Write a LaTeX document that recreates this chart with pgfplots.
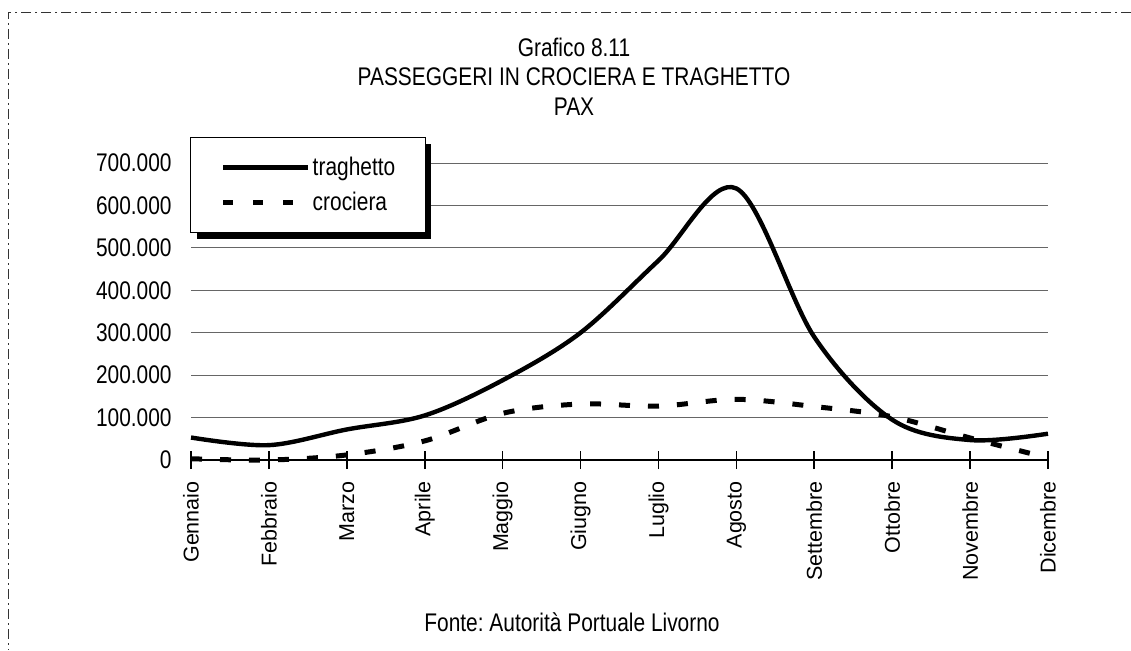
\documentclass[border=0pt]{standalone}
\usepackage{fontspec}
\setmainfont{Liberation Sans}
\newfontfamily\narrow{Liberation Sans}[FakeStretch=0.82]
\usepackage{pgfplots}
\pgfplotsset{compat=1.18}
\usetikzlibrary{shadows}
\makeatletter
\tikzset{nopre/.code={\let\tikz@preactions\pgfutil@empty\let\tikz@postactions\pgfutil@empty}}
\makeatother
\pgfplotsset{
  solidleg/.style={legend image code/.code={\draw[nopre, ##1] (0pt,0pt) -- (42.5pt,0pt);}},
  dashleg/.style={legend image code/.code={\draw[nopre, ##1, dash pattern=on 5pt off 10pt] (0pt,0pt) -- (42.5pt,0pt);}},
}
\newcommand\nf{\narrow\fontsize{12.75}{15}\selectfont}
\frenchspacing
\begin{document}
\begin{tikzpicture}
\path[use as bounding box] (0,0) rectangle (565.5pt,325pt);
\draw[black!80, line width=0.5pt, dash pattern=on 5pt off 2pt on 1pt off 2pt] (565.5pt,319pt) -- (4pt,319pt) -- (4pt,0pt);
\node[font=\nf] at (287pt,301.5pt) {Grafico 8.11};
\node[font=\nf] at (287pt,286.5pt) {PASSEGGERI IN CROCIERA E TRAGHETTO};
\node[font=\nf] at (287pt,271.5pt) {PAX};
\node[font=\nf] at (286pt,14pt) {Fonte: Autorità Portuale Livorno};
\begin{axis}[
  at={(95.5pt,95pt)}, anchor=south west,
  width=428.5pt, height=148.5pt, scale only axis,
  xmin=0, xmax=11, ymin=0, ymax=700000,
  clip=false,
  axis x line*=bottom, axis y line*=left,
  x axis line style={line width=1.3pt, -},
  y axis line style={draw=none},
  xtick={0,...,11},
  xticklabels={Gennaio,Febbraio,Marzo,Aprile,Maggio,Giugno,Luglio,Agosto,Settembre,Ottobre,Novembre,Dicembre},
  xtick align=center,
  major tick length=9pt,
  x tick style={line width=0.8pt, black},
  xticklabel style={rotate=90, anchor=east, inner sep=0pt, xshift=-6pt, font=\fontsize{10.75}{12}\selectfont},
  ytick={0,100000,200000,300000,400000,500000,600000,700000},
  y tick style={draw=none},
  ymajorgrids, grid style={black!60, line width=0.5pt},
  scaled y ticks=false,
  /pgf/number format/assume math mode=true,
  yticklabel style={font=\nf, inner sep=0pt, xshift=-9.5pt, /pgf/number format/fixed, /pgf/number format/1000 sep={.}},
  legend style={at={(-0.001,1.0875)}, anchor=north west, draw=black, line width=0.6pt, fill=white,
    font=\nf, inner xsep=15pt, inner ysep=6.25pt, row sep=0pt, column sep=1pt,
    nodes={inner sep=0pt, minimum height=17.5pt},
    drop shadow={shadow xshift=3pt, shadow yshift=-3pt, fill=black, opacity=1}},
  legend cell align=left,
]
\addplot[black, line width=2.2pt, smooth, tension=0.55, solidleg]
coordinates {(0,53000) (1,35000) (2,72000) (3,105000) (4,188000) (5,300000) (6,470000) (7,640000) (8,290000) (9,95000) (10,47000) (11,62000)};
\addlegendentry{traghetto\hspace{3pt}}
\addplot[black, line width=2.5pt, smooth, tension=0.55, dash pattern=on 5.5pt off 9pt, dashleg]
coordinates {(0,3000) (1,0) (2,12000) (3,45000) (4,110000) (5,132000) (6,127000) (7,143000) (8,126000) (9,102000) (10,52000) (11,5000)};
\addlegendentry{crociera}
\end{axis}
\end{tikzpicture}
\end{document}
